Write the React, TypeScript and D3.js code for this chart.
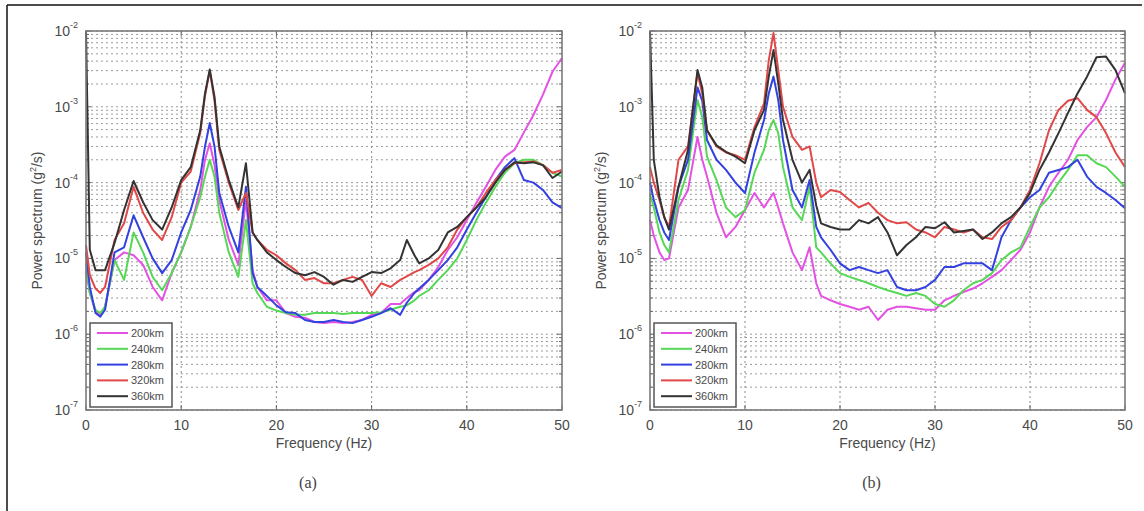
import React from "react";
import * as d3 from "d3";

const FREQ_A = [0, 0.4, 1, 1.5, 2, 3, 4, 5, 6, 7, 8, 9, 10, 11, 12, 12.5, 13, 13.5, 14, 15, 16, 16.8, 17.5, 18, 19, 20, 21, 22, 23, 24, 25, 26, 27, 28, 29, 30, 31, 32, 33, 33.7, 34.5, 35, 36, 37, 38, 39, 40, 41, 42, 43, 44, 45, 46, 47, 48, 49, 50];

const A_200 = [7e-6, 3.5e-6, 2e-6, 1.8e-6, 2.3e-6, 9.5e-6, 1.2e-5, 1.1e-5, 8.2e-6, 4.2e-6, 2.8e-6, 6.4e-6, 1.2e-5, 2.6e-5, 8e-5, 2e-4, 3.3e-4, 1.7e-4, 5.9e-5, 1.75e-5, 8.2e-6, 5.9e-5, 7e-6, 4.2e-6, 2.8e-6, 2.8e-6, 1.9e-6, 1.7e-6, 1.65e-6, 1.45e-6, 1.4e-6, 1.45e-6, 1.4e-6, 1.45e-6, 1.54e-6, 1.8e-6, 1.9e-6, 2.5e-6, 2.5e-6, 3e-6, 3.6e-6, 3.8e-6, 5.2e-6, 7.7e-6, 1.29e-5, 1.9e-5, 3.2e-5, 5.4e-5, 8.8e-5, 1.47e-4, 2.2e-4, 2.7e-4, 4.6e-4, 7.8e-4, 1.45e-3, 2.9e-3, 4.4e-3];
const A_240 = [8.6e-6, 3.5e-6, 2.1e-6, 1.9e-6, 2.3e-6, 9.5e-6, 5.2e-6, 2.2e-5, 1.2e-5, 5.7e-6, 3.8e-6, 6.4e-6, 1.2e-5, 2.6e-5, 6.4e-5, 1.2e-4, 2e-4, 1.2e-4, 4e-5, 1.2e-5, 5.7e-6, 3.2e-5, 4.7e-6, 3.5e-6, 2.3e-6, 2.05e-6, 1.9e-6, 1.8e-6, 1.8e-6, 1.9e-6, 1.9e-6, 1.9e-6, 1.85e-6, 1.9e-6, 1.9e-6, 1.9e-6, 1.95e-6, 2.1e-6, 2.3e-6, 2.4e-6, 2.8e-6, 3.2e-6, 3.8e-6, 5.2e-6, 7e-6, 1e-5, 1.75e-5, 3.2e-5, 5.4e-5, 8.8e-5, 1.35e-4, 1.8e-4, 2e-4, 2e-4, 1.7e-4, 1.35e-4, 1.2e-4];
const A_280 = [1.2e-5, 4.2e-6, 1.9e-6, 1.7e-6, 2.1e-6, 1.2e-5, 1.4e-5, 3.7e-5, 1.9e-5, 1e-5, 6.4e-6, 9.5e-6, 2.2e-5, 4.35e-5, 1.2e-4, 3e-4, 6.1e-4, 3e-4, 7.3e-5, 2.6e-5, 1.2e-5, 8.8e-5, 6.4e-6, 4.2e-6, 3.2e-6, 2.4e-6, 1.95e-6, 1.9e-6, 1.54e-6, 1.45e-6, 1.45e-6, 1.54e-6, 1.45e-6, 1.4e-6, 1.54e-6, 1.7e-6, 1.9e-6, 2.2e-6, 1.8e-6, 2.6e-6, 3.5e-6, 4e-6, 5.2e-6, 7e-6, 9.5e-6, 1.4e-5, 2.4e-5, 4e-5, 6.4e-5, 1.08e-4, 1.6e-4, 2.1e-4, 1.08e-4, 1e-4, 8e-5, 5.5e-5, 4.6e-5];
const A_320 = [1.5e-5, 6e-6, 4e-6, 3.5e-6, 4.2e-6, 1.75e-5, 2.9e-5, 8.8e-5, 4e-5, 2.4e-5, 1.75e-5, 3.5e-5, 1e-4, 1.4e-4, 4.5e-4, 1.4e-3, 3e-3, 1.2e-3, 2.7e-4, 1e-4, 4.35e-5, 7.3e-5, 2.2e-5, 1.75e-5, 1.3e-5, 1.1e-5, 8.6e-6, 7e-6, 5.2e-6, 5.5e-6, 4.7e-6, 4.7e-6, 5.2e-6, 5.7e-6, 5.2e-6, 3.2e-6, 4.7e-6, 4.2e-6, 5.2e-6, 5.8e-6, 6.6e-6, 7e-6, 8.2e-6, 1e-5, 1.4e-5, 2.4e-5, 3.5e-5, 4.7e-5, 7.3e-5, 1.08e-4, 1.47e-4, 1.8e-4, 1.85e-4, 1.9e-4, 1.7e-4, 1.35e-4, 1.47e-4];
const A_360 = [1e-2, 1.3e-5, 7e-6, 7e-6, 7e-6, 1.6e-5, 4.35e-5, 1.05e-4, 5.5e-5, 3.2e-5, 2.4e-5, 4.7e-5, 1.08e-4, 1.6e-4, 4.9e-4, 1.5e-3, 3.1e-3, 1.35e-3, 3e-4, 1.08e-4, 4.7e-5, 1.8e-4, 2.2e-5, 1.75e-5, 1.2e-5, 9.5e-6, 7.7e-6, 6.4e-6, 6e-6, 6.6e-6, 5.7e-6, 4.5e-6, 5.2e-6, 4.9e-6, 5.7e-6, 6.6e-6, 6.4e-6, 7.4e-6, 9.5e-6, 1.75e-5, 1.1e-5, 8.6e-6, 1e-5, 1.29e-5, 2.2e-5, 2.6e-5, 3.5e-5, 4.7e-5, 6.4e-5, 1e-4, 1.47e-4, 1.85e-4, 1.8e-4, 1.85e-4, 1.7e-4, 1.15e-4, 1.4e-4];

const FREQ_B = [0, 0.4, 1, 1.5, 2, 3, 4, 5, 5.5, 6, 7, 8, 9, 10, 11, 12, 12.5, 13, 13.5, 14, 15, 16, 16.8, 17.5, 18, 19, 20, 21, 22, 23, 24, 25, 26, 27, 28, 29, 30, 31, 32, 33, 34, 35, 36, 37, 38, 39, 40, 41, 42, 43, 44, 45, 46, 47, 48, 49, 50];

const B_200 = [3.2e-5, 2e-5, 1.2e-5, 9.5e-6, 1e-5, 4.7e-5, 8e-5, 4e-4, 2e-4, 1.2e-4, 4e-5, 1.9e-5, 2.6e-5, 4.35e-5, 7.3e-5, 4.7e-5, 5.9e-5, 7.3e-5, 4.7e-5, 2.9e-5, 1.2e-5, 7e-6, 1.4e-5, 4.7e-6, 3.2e-6, 2.8e-6, 2.5e-6, 2.3e-6, 2.1e-6, 2.3e-6, 1.54e-6, 2.1e-6, 2.3e-6, 2.3e-6, 2.2e-6, 2.1e-6, 2.1e-6, 2.8e-6, 3.2e-6, 3.6e-6, 4e-6, 4.7e-6, 5.7e-6, 7e-6, 9.5e-6, 1.3e-5, 2.2e-5, 4.7e-5, 8.8e-5, 1.35e-4, 2e-4, 3.65e-4, 5.4e-4, 7.3e-4, 1.23e-3, 2.3e-3, 3.8e-3];
const B_240 = [7e-5, 4.7e-5, 2.2e-5, 1.5e-5, 1.2e-5, 5.9e-5, 1.47e-4, 1.23e-3, 7.3e-4, 2.2e-4, 1.08e-4, 4.7e-5, 3.5e-5, 4.35e-5, 1.35e-4, 2.7e-4, 4.9e-4, 6.7e-4, 4.5e-4, 1.6e-4, 4.7e-5, 3.2e-5, 8.8e-5, 1.4e-5, 1.2e-5, 8.6e-6, 6.4e-6, 5.7e-6, 5.2e-6, 4.7e-6, 4.2e-6, 3.8e-6, 3.5e-6, 3.2e-6, 3.5e-6, 3.2e-6, 2.5e-6, 2.3e-6, 2.8e-6, 3.8e-6, 4.7e-6, 5.2e-6, 6.4e-6, 9.5e-6, 1.2e-5, 1.4e-5, 2.6e-5, 4.7e-5, 6.4e-5, 1e-4, 1.47e-4, 2.3e-4, 2.3e-4, 1.8e-4, 1.6e-4, 1.2e-4, 8.8e-5];
const B_280 = [1e-4, 5.9e-5, 3.2e-5, 2.2e-5, 1.75e-5, 8.8e-5, 2e-4, 1.8e-3, 1.2e-3, 3.65e-4, 2e-4, 1.47e-4, 1e-4, 7.3e-5, 2.5e-4, 6.7e-4, 1.5e-3, 2.5e-3, 1.23e-3, 3.65e-4, 8e-5, 4.7e-5, 1.08e-4, 2.6e-5, 1.9e-5, 1.3e-5, 8.6e-6, 7e-6, 7.7e-6, 7e-6, 6.4e-6, 7e-6, 4.2e-6, 3.8e-6, 3.8e-6, 4.2e-6, 5.2e-6, 7.7e-6, 7.7e-6, 8.6e-6, 8.6e-6, 8.6e-6, 7e-6, 1.9e-5, 3.2e-5, 4.7e-5, 6.4e-5, 8e-5, 1.35e-4, 1.47e-4, 1.6e-4, 2e-4, 1.2e-4, 8.8e-5, 7.3e-5, 5.9e-5, 4.6e-5];
const B_320 = [1.6e-4, 1e-4, 5.9e-5, 3.5e-5, 2.6e-5, 2e-4, 3e-4, 2.8e-3, 1.5e-3, 4.9e-4, 3e-4, 2.5e-4, 2.3e-4, 2e-4, 5.4e-4, 1.1e-3, 4.1e-3, 9.4e-3, 3.05e-3, 1e-3, 4e-4, 2.7e-4, 3e-4, 1e-4, 6.4e-5, 8e-5, 7.5e-5, 5.9e-5, 4.7e-5, 5.4e-5, 4e-5, 3.2e-5, 2.9e-5, 3e-5, 2.4e-5, 2.2e-5, 1.9e-5, 2.6e-5, 2.4e-5, 2.2e-5, 2.4e-5, 1.9e-5, 1.8e-5, 2.6e-5, 3.2e-5, 4.7e-5, 8e-5, 1.8e-4, 4.9e-4, 9.1e-4, 1.2e-3, 1.3e-3, 9.1e-4, 7.3e-4, 4.5e-4, 2.5e-4, 1.6e-4];
const B_360 = [1e-2, 2e-4, 6.4e-5, 3.5e-5, 2.4e-5, 8.8e-5, 2.7e-4, 3.05e-3, 1.8e-3, 4.9e-4, 3.1e-4, 2.55e-4, 2.2e-4, 1.8e-4, 4.9e-4, 9.1e-4, 2.5e-3, 5.6e-3, 2.05e-3, 6.7e-4, 2e-4, 1e-4, 1.47e-4, 5e-5, 2.9e-5, 2.6e-5, 2.4e-5, 2.4e-5, 3.2e-5, 2.9e-5, 3.5e-5, 2.2e-5, 1.1e-5, 1.5e-5, 1.9e-5, 2.6e-5, 2.5e-5, 3e-5, 2.2e-5, 2.3e-5, 2.4e-5, 1.8e-5, 2.2e-5, 2.9e-5, 3.5e-5, 4.7e-5, 7.3e-5, 1.47e-4, 2.5e-4, 4.5e-4, 8.3e-4, 1.5e-3, 2.5e-3, 4.5e-3, 4.6e-3, 3.05e-3, 1.5e-3];

const SERIES_NAMES = ["200km", "240km", "280km", "320km", "360km"];
const SERIES_COLORS = ["#e452e4", "#56d856", "#3341e0", "#e24848", "#333333"];
const X_TICKS = [0, 10, 20, 30, 40, 50];
const Y_DECADES = [-2, -3, -4, -5, -6, -7];

type PanelProps = {
  left: number;
  right: number;
  freq: number[];
  series: number[][];
  tag: string;
};

const TOP = 31;
const BOTTOM = 410;
const FONT = "'Liberation Sans', Arial, sans-serif";
const TEXT = "#4a4a4a";

function Panel({ left, right, freq, series, tag }: PanelProps) {
  const x = d3.scaleLinear().domain([0, 50]).range([left, right]);
  const y = d3.scaleLog().domain([1e-7, 1e-2]).range([BOTTOM, TOP]);
  const line = d3
    .line<[number, number]>()
    .x((d) => x(d[0]))
    .y((d) => y(d[1]));

  const gridVals: number[] = [];
  for (let k = -7; k <= -3; k++) {
    for (let m = 1; m <= 9; m++) gridVals.push(m * Math.pow(10, k));
  }
  gridVals.push(1e-2);

  const cx = (left + right) / 2;
  const legX = left + 4;
  const legY = 323;

  return (
    <g>
      {/* grid */}
      {gridVals.map((v, i) => (
        <line
          key={"h" + i}
          x1={left}
          x2={right}
          y1={y(v)}
          y2={y(v)}
          stroke="#9a9a9a"
          strokeWidth={1}
          strokeDasharray="2,3"
        />
      ))}
      {X_TICKS.slice(1, -1).map((t) => (
        <line
          key={"v" + t}
          x1={x(t)}
          x2={x(t)}
          y1={TOP}
          y2={BOTTOM}
          stroke="#8a8a8a"
          strokeWidth={1}
          strokeDasharray="2,3"
        />
      ))}
      {/* ticks */}
      {X_TICKS.map((t) => (
        <g key={"xt" + t}>
          <line x1={x(t)} x2={x(t)} y1={BOTTOM} y2={BOTTOM - 5} stroke="#666" />
          <line x1={x(t)} x2={x(t)} y1={TOP} y2={TOP + 5} stroke="#666" />
          <text
            x={x(t)}
            y={BOTTOM + 20}
            textAnchor="middle"
            fontSize={14}
            fontFamily={FONT}
            fill={TEXT}
          >
            {t}
          </text>
        </g>
      ))}
      {gridVals.map((v, i) => {
        const major = Math.abs(Math.log10(v) - Math.round(Math.log10(v))) < 1e-9;
        const len = major ? 5 : 3;
        return (
          <g key={"yt" + i}>
            <line x1={left} x2={left + len} y1={y(v)} y2={y(v)} stroke="#666" />
            <line x1={right} x2={right - len} y1={y(v)} y2={y(v)} stroke="#666" />
          </g>
        );
      })}
      {Y_DECADES.map((k) => (
        <text
          key={"yl" + k}
          x={left - 8}
          y={y(Math.pow(10, k)) + 5}
          textAnchor="end"
          fontSize={14}
          fontFamily={FONT}
          fill={TEXT}
        >
          <tspan>10</tspan>
          <tspan dy={-8} fontSize={9}>
            {String(k)}
          </tspan>
        </text>
      ))}
      {/* series */}
      {series.map((vals, si) => (
        <path
          key={"s" + si}
          d={line(freq.map((f, i) => [f, vals[i]] as [number, number])) || ""}
          fill="none"
          stroke={SERIES_COLORS[si]}
          strokeWidth={2}
          strokeLinejoin="round"
        />
      ))}
      {/* axes box */}
      <rect
        x={left}
        y={TOP}
        width={right - left}
        height={BOTTOM - TOP}
        fill="none"
        stroke="#7a7a7a"
        strokeWidth={1.6}
      />
      {/* legend */}
      <rect
        x={legX}
        y={legY}
        width={82}
        height={84}
        fill="#fff"
        stroke="#555"
        strokeWidth={1.5}
      />
      {SERIES_NAMES.map((n, i) => (
        <g key={"lg" + i}>
          <line
            x1={legX + 7}
            x2={legX + 38}
            y1={legY + 10 + i * 15.8}
            y2={legY + 10 + i * 15.8}
            stroke={SERIES_COLORS[i]}
            strokeWidth={2}
          />
          <text
            x={legX + 41}
            y={legY + 14 + i * 15.8}
            fontSize={11}
            fontFamily={FONT}
            fill={TEXT}
          >
            {n}
          </text>
        </g>
      ))}
      {/* labels */}
      <text
        x={cx}
        y={BOTTOM + 38}
        textAnchor="middle"
        fontSize={14}
        fontFamily={FONT}
        fill={TEXT}
      >
        Frequency (Hz)
      </text>
      <text
        transform={`translate(${left - 44},${(TOP + BOTTOM) / 2}) rotate(-90)`}
        textAnchor="middle"
        fontSize={14}
        fontFamily={FONT}
        fill={TEXT}
      >
        Power spectrum (g<tspan dy={-6} fontSize={9}>2</tspan>
        <tspan dy={6}>/s)</tspan>
      </text>
      <text
        x={cx - 16}
        y={488}
        textAnchor="middle"
        fontSize={16}
        fontFamily="'Liberation Serif', 'Times New Roman', serif"
        fill="#444"
      >
        {tag}
      </text>
    </g>
  );
}

export default function App() {
  return (
    <svg
      width={1144}
      height={511}
      style={{ position: "absolute", left: 0, top: 0, background: "#fff" }}
    >
      <rect x={0} y={0} width={1144} height={511} fill="#fff" />
      <line x1={7} x2={1142} y1={5} y2={5} stroke="#111" strokeWidth={1.5} />
      <line x1={7} x2={7} y1={5} y2={511} stroke="#111" strokeWidth={1.5} />
      <Panel
        left={86}
        right={562}
        freq={FREQ_A}
        series={[A_200, A_240, A_280, A_320, A_360]}
        tag="(a)"
      />
      <Panel
        left={650}
        right={1125}
        freq={FREQ_B}
        series={[B_200, B_240, B_280, B_320, B_360]}
        tag="(b)"
      />
    </svg>
  );
}
